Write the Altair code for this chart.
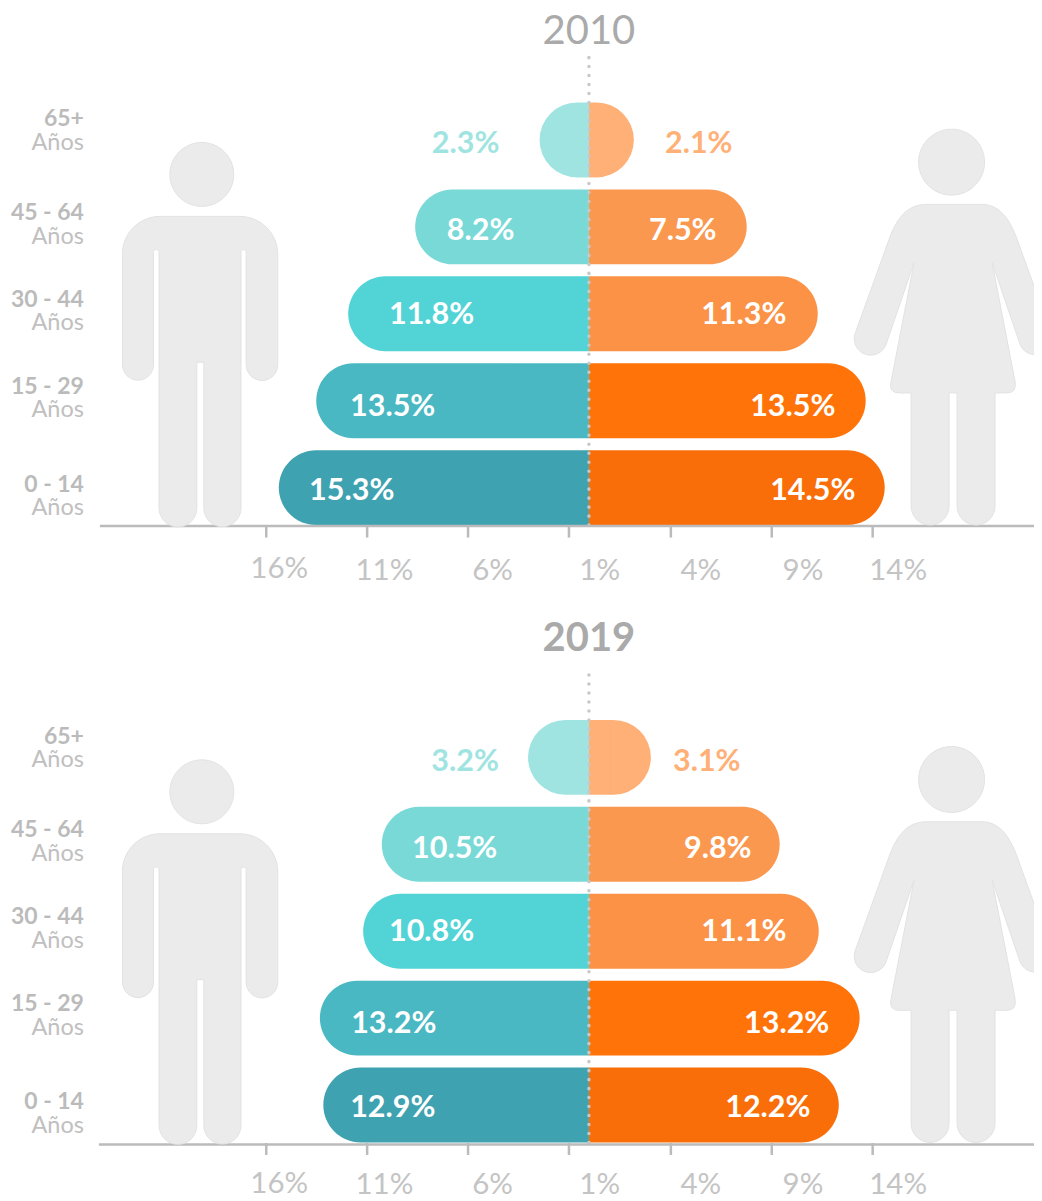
import math
import re
import altair as alt
import pandas as pd

# ---- data ----
ages = ["65+", "45 - 64", "30 - 44", "15 - 29", "0 - 14"]

male_2010 = [2.3, 8.2, 11.8, 13.5, 15.3]
female_2010 = [2.1, 7.5, 11.3, 13.5, 14.5]
male_2019 = [3.2, 10.5, 10.8, 13.2, 12.9]
female_2019 = [3.1, 9.8, 11.1, 13.2, 12.2]

# bar lengths as drawn, read on the axis
male_2010_len = [2.44, 8.59, 11.90, 13.48, 15.33]
female_2010_len = [2.22, 7.80, 11.31, 13.68, 14.62]
male_2019_len = [3.01, 10.24, 11.16, 13.30, 13.13]
female_2019_len = [3.06, 9.43, 11.36, 13.38, 12.35]

tick_values = [-16, -11, -6, -1, 4, 9, 14]
tick_labels = ["16%", "11%", "6%", "1%", "4%", "9%", "14%"]

# ---- layout and style ----
colors_m = ["#a0e4e1", "#78d9d7", "#52d3d6", "#49b8c2", "#3fa2b0"]
colors_f = ["#ffb077", "#fa984f", "#fb9245", "#ff7309", "#f96e08"]
FONT = "Lato"
PLOT_W, PLOT_H = 1034, 517
CENTER = 581.5
PX = 20.25
BAND_H = 75
R = 37.5
R_U = R / PX
x_scale = alt.Scale(domain=[-CENTER / PX, (PLOT_W - CENTER) / PX], range=[0, PLOT_W], nice=False, zero=False)
y_scale = alt.Scale(domain=ages, range=[94, 517], paddingInner=0.138, paddingOuter=0)
x_axis = alt.Axis(values=tick_values, labels=False, domain=False, grid=False, title=None,
                  tickSize=12, tickWidth=2.5, tickColor="#bbbbbb")

# text offsets relative to the bar end (px, positive = towards the centre)
m_dx_2010 = [-74, 65.5, 83.5, 76.5, 73]
f_dx_2010 = [-65, 64, 74, 73, 72]
m_dx_2019 = [-63, 73, 68.5, 74, 69.5]
f_dx_2019 = [-56, 62, 75, 73, 71]
val_dy_2010 = [4, 4.5, 1, 6, 3]
val_dy_2019 = [4.5, 4.5, 0.5, 5.5, 2.5]
age_dy_2010 = [(-21, 3), (-13.5, 10), (-13.5, 9), (-14, 9), (-2.5, 20.5)]
age_dy_2019 = [(-20.5, 2.5), (-14.5, 9.5), (-14.5, 9.5), (-14.5, 9.5), (-3.5, 21)]
tick_dx = [14, 18, 25, 31, 31, 32, 26]
tick_y_2010 = [561, 563, 563, 563, 563, 563, 563]
tick_y_2019 = [559, 560, 560, 560, 560, 560, 560]

ANCHOR = 20


def shift(path, ox, oy):
    """Move a path written in page pixels to the coordinates of its anchor."""
    toks = re.findall(r"[A-Za-z]|-?\d+\.?\d*", path)
    out, i = [], 0
    sizes = {"M": 2, "L": 2, "H": 1, "V": 1, "C": 6, "Q": 4, "A": 7, "Z": 0}
    while i < len(toks):
        c = toks[i]
        i += 1
        n = sizes[c]
        a = [float(t) for t in toks[i:i + n]]
        i += n
        if c in "MLCQ":
            a = [v - (ox if k % 2 == 0 else oy) for k, v in enumerate(a)]
        elif c == "H":
            a = [a[0] - ox]
        elif c == "V":
            a = [a[0] - oy]
        elif c == "A":
            a[5] -= ox
            a[6] -= oy
        out.append(c + " ".join(f"{v:g}" for v in a))
    return " ".join(out)


MAN = ("M160 216 H240 A38 38 0 0 1 278 254 V364.5 A15.8 15.8 0 0 1 246.4 364.5 V252 "
       "A2.6 2.6 0 0 0 241.2 252 V508 A18.6 18.6 0 0 1 204 508 V362 H197 V508 "
       "A18.9 18.9 0 0 1 159.2 508 V252 A2.8 2.8 0 0 0 153.6 252 V364.5 "
       "A15.5 15.5 0 0 1 122.6 364.5 V254 A37.4 37.4 0 0 1 160 216 Z "
       "M170 174 A32 32 0 1 1 234 174 A32 32 0 1 1 170 174 Z")
# the right hand is cut by the edge of the picture
WOMAN = ("M927 204 H983 C1000 204 1010 218 1017 236 L1042 305 V353.2 A16 16 0 0 1 1021 344 L993 262 "
         "L1016 381 Q1018 392.7 1008 392.7 H996 V506 A19 19 0 0 1 958 506 V392.7 H950 V506 "
         "A19 19 0 0 1 912 506 V392.7 H900 Q889 392.7 892 381 L915 262 L887 344 "
         "A16 16 0 0 1 856 333 L891 236 C898 218 908 204 927 204 Z "
         "M919.5 161.7 A33 33 0 1 1 985.5 161.7 A33 33 0 1 1 919.5 161.7 Z")


def X(field="x"):
    return alt.X(f"{field}:Q", scale=x_scale, axis=x_axis, title=None)


Y = alt.Y("age:N", scale=y_scale, axis=None, title=None)


def panel(year, year_weight, year_y, male, female, male_len, female_len, m_dx, f_dx, val_dy, age_dy,
          rule_x, rule_y, tick_y):
    rows = []
    for i, a in enumerate(ages):
        txt_m = colors_m[i] if i == 0 else "#ffffff"
        txt_f = colors_f[i] if i == 0 else "#ffffff"
        rows.append(dict(age=a, side="m", val=male[i], ln=male_len[i], color=colors_m[i],
                         txt=txt_m, dx=m_dx[i], dy=val_dy[i]))
        rows.append(dict(age=a, side="f", val=female[i], ln=female_len[i], color=colors_f[i],
                         txt=txt_f, dx=f_dx[i], dy=val_dy[i]))
    df = pd.DataFrame(rows)
    sgn = df["side"].map({"m": -1, "f": 1})
    df["x0"] = 0.0
    df["x1"] = sgn * df["ln"]
    df["capx"] = sgn * (df["ln"] - R_U)
    df["rectx"] = sgn * (df["ln"] - R_U + 0.025)
    df["tx"] = sgn * (df["ln"] - df["dx"] / PX)
    df["label"] = df["val"].map(lambda v: f"{v:.1f}%")
    color = alt.Color("color:N", scale=None, legend=None)

    small = df["ln"] * PX < BAND_H
    layers = []
    for side, corners, th in [("m", dict(cornerRadiusTopLeft=R, cornerRadiusBottomLeft=R), (math.pi, 2 * math.pi)),
                              ("f", dict(cornerRadiusTopRight=R, cornerRadiusBottomRight=R), (0, math.pi))]:
        d = df[df["side"] == side]
        big = d[~small.loc[d.index]]
        sm = d[small.loc[d.index]]
        layers.append(alt.Chart(big).mark_bar(**corners).encode(x=X("x0"), x2="x1:Q", y=Y, color=color))
        layers.append(alt.Chart(sm).mark_bar().encode(x=X("x0"), x2="rectx:Q", y=Y, color=color))
        layers.append(alt.Chart(sm).mark_arc(theta=th[0], theta2=th[1], radius=R).encode(x=X("capx"), y=Y, color=color))

    # centre dotted line
    layers.append(alt.Chart(pd.DataFrame({"x": [0]})).mark_rule(
        color="#c8c8c8", strokeWidth=3.5, strokeCap="round", strokeDash=[0.1, 8.9]
    ).encode(x=X("x"), y=alt.value(49), y2=alt.value(517)))

    # base line
    layers.append(alt.Chart(pd.DataFrame({"x": [0]})).mark_rule(color="#bbbbbb", strokeWidth=2.5).encode(
        x=alt.value(rule_x), x2=alt.value(PLOT_W), y=alt.value(rule_y)))

    # figures
    for path in (MAN, WOMAN):
        layers.append(alt.Chart(pd.DataFrame({"x": [0]})).mark_point(
            shape=shift(path, 8 + ANCHOR, 8 + ANCHOR), size=4, filled=True, opacity=1,
            fill="#ebebeb", stroke="#e2e2e2", strokeWidth=1
        ).encode(x=alt.value(ANCHOR), y=alt.value(ANCHOR)))

    # value labels
    for (dy, col), g in df.groupby(["dy", "txt"]):
        layers.append(alt.Chart(g).mark_text(
            font=FONT, fontWeight="bold", fontSize=30.5, dy=dy, align="center", baseline="middle", color=col
        ).encode(x=X("tx"), y=Y, text="label:N"))

    # age labels
    for i, a in enumerate(ages):
        d = pd.DataFrame({"age": [a], "t1": [a], "t2": ["Años"]})
        layers.append(alt.Chart(d).mark_text(
            font=FONT, fontWeight="bold", fontSize=23, color="#bbbbbb", align="right", baseline="middle", dy=age_dy[i][0]
        ).encode(x=alt.value(76), y=Y, text="t1:N"))
        layers.append(alt.Chart(d).mark_text(
            font=FONT, fontSize=23.5, color="#c0c0c0", align="right", baseline="middle", dy=age_dy[i][1]
        ).encode(x=alt.value(76), y=Y, text="t2:N"))

    # tick labels
    for t, lab, dx, yy in zip(tick_values, tick_labels, tick_dx, tick_y):
        d = pd.DataFrame({"x": [t + dx / PX], "t": [lab]})
        layers.append(alt.Chart(d).mark_text(
            font=FONT, fontSize=29.5, color="#c4c4c4", align="center", baseline="middle"
        ).encode(x=X("x"), y=alt.value(yy), text="t:N"))

    # year
    layers.append(alt.Chart(pd.DataFrame({"t": [year]})).mark_text(
        font=FONT, fontSize=40, fontWeight=year_weight, color="#aaaaaa", align="center", baseline="middle"
    ).encode(x=alt.value(CENTER), y=alt.value(year_y), text="t:N"))

    return alt.layer(*layers).properties(width=PLOT_W, height=PLOT_H)


p1 = panel("2010", "normal", 23, male_2010, female_2010, male_2010_len, female_2010_len,
           m_dx_2010, f_dx_2010, val_dy_2010, age_dy_2010, 92, 518, tick_y_2010)
p2 = panel("2019", "bold", 13, male_2019, female_2019, male_2019_len, female_2019_len,
           m_dx_2019, f_dx_2019, val_dy_2019, age_dy_2019, 91, 519, tick_y_2019)

chart = alt.vconcat(p1, p2, spacing=101, bounds="flush").properties(
    padding={"left": 0, "top": 0, "right": -9, "bottom": -2}
).configure_view(stroke=None)
chart.save("out.html", embed_options={"renderer": "svg", "actions": False})
